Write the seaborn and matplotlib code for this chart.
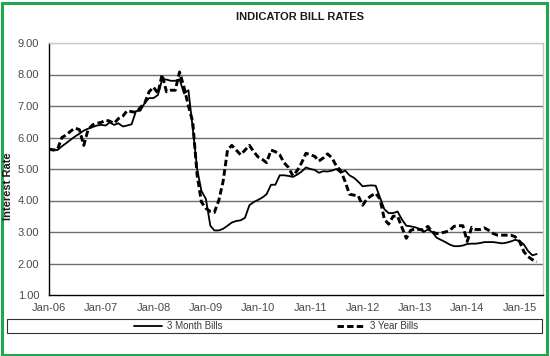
import matplotlib
matplotlib.use("Agg")
import matplotlib.pyplot as plt
import matplotlib.dates as mdates
from matplotlib.patches import Rectangle
import numpy as np
import pandas as pd
import seaborn as sns

# monthly readings, Jan 2006 .. May 2015
months = pd.date_range("2006-01-01", periods=113, freq="MS")

three_month = [
    5.63, 5.62, 5.60, 5.72, 5.82, 5.93, 6.03, 6.12, 6.22, 6.28, 6.33, 6.38,
    6.40, 6.38, 6.48, 6.40, 6.45, 6.35, 6.38, 6.42, 6.84, 6.85, 7.10, 7.25,
    7.25, 7.35, 7.84, 7.84, 7.80, 7.80, 7.85, 7.40, 7.50, 6.30, 5.00, 4.30,
    4.05, 3.20, 3.05, 3.05, 3.10, 3.20, 3.30, 3.35, 3.37, 3.45, 3.85, 3.95,
    4.02, 4.10, 4.20, 4.50, 4.50, 4.80, 4.80, 4.78, 4.75, 4.82, 4.92, 5.05,
    5.00, 4.97, 4.88, 4.93, 4.92, 4.95, 5.00, 4.88, 4.95, 4.80, 4.72, 4.60,
    4.45, 4.47, 4.48, 4.47, 4.10, 3.72, 3.60, 3.60, 3.65, 3.40, 3.20, 3.18,
    3.15, 3.10, 3.00, 3.08, 3.00, 2.82, 2.75, 2.68, 2.60, 2.55, 2.55, 2.57,
    2.62, 2.63, 2.63, 2.65, 2.68, 2.68, 2.68, 2.66, 2.64, 2.66, 2.70, 2.75,
    2.72, 2.60, 2.40, 2.26, 2.30,
]

three_year = [
    5.63, 5.60, 5.62, 6.00, 6.08, 6.20, 6.30, 6.25, 5.75, 6.25, 6.40, 6.45,
    6.48, 6.55, 6.52, 6.45, 6.60, 6.68, 6.85, 6.82, 6.80, 6.95, 7.10, 7.45,
    7.60, 7.40, 8.00, 7.45, 7.50, 7.50, 8.08, 7.60, 7.00, 6.50, 4.80, 3.95,
    3.75, 3.65, 3.62, 4.00, 4.60, 5.60, 5.75, 5.60, 5.45, 5.60, 5.75, 5.55,
    5.38, 5.30, 5.20, 5.60, 5.55, 5.45, 5.20, 5.05, 4.78, 4.95, 5.20, 5.50,
    5.45, 5.40, 5.25, 5.35, 5.48, 5.35, 5.10, 4.95, 4.60, 4.20, 4.17, 4.15,
    3.85, 4.05, 4.15, 4.23, 4.05, 3.40, 3.25, 3.50, 3.50, 3.15, 2.80, 3.05,
    3.10, 3.08, 3.07, 3.18, 3.00, 2.95, 2.97, 3.00, 3.05, 3.18, 3.20, 3.20,
    2.70, 3.15, 3.08, 3.08, 3.13, 3.05, 2.95, 2.90, 2.90, 2.90, 2.90, 2.85,
    2.70, 2.37, 2.22, 2.12, 2.05,
]

series_names = ["3 Month Bills", "3 Year Bills"]
y_ticks = [1, 2, 3, 4, 5, 6, 7, 8, 9]

df = pd.DataFrame({
    "date": list(months) * 2,
    "rate": three_month + three_year,
    "series": [series_names[0]] * len(months) + [series_names[1]] * len(months),
})

sns.set_style("white")
plt.rcParams["font.family"] = ["Liberation Sans", "DejaVu Sans"]

fig = plt.figure(figsize=(5.5, 3.56), dpi=100)
ax = fig.add_axes([49 / 550, 1 - 295 / 356, 494 / 550, 252 / 356])

sns.lineplot(
    data=df, x="date", y="rate", style="series", ax=ax,
    color="black", dashes={series_names[0]: "", series_names[1]: (2.2, 1.1)},
    legend=False,
)
ax.lines[0].set_linewidth(1.3)
ax.lines[1].set_linewidth(2.1)
ax.lines[1].set_dash_capstyle("butt")

# horizontal grid like excel
for v in y_ticks[1:-1]:
    ax.axhline(v, color="#6f6f6f", lw=1.0, zorder=0)
ax.axhline(9, color="#c8c8c8", lw=1.0, zorder=0)

ax.set_ylim(1, 9)
ax.set_yticks(y_ticks)
ax.set_yticklabels([f"{v:.2f}" for v in y_ticks])
ax.set_xlim(pd.Timestamp("2006-01-01"), pd.Timestamp("2015-06-14"))
ax.xaxis.set_major_locator(mdates.YearLocator())
ax.xaxis.set_major_formatter(mdates.DateFormatter("%b-%y"))

for side in ["top", "right"]:
    ax.spines[side].set_color("#c8c8c8")
    ax.spines[side].set_linewidth(1.0)
for side in ["left", "bottom"]:
    ax.spines[side].set_color("black")
    ax.spines[side].set_linewidth(1.0)

ax.tick_params(axis="both", direction="out", length=3, width=1, color="black",
               labelsize=8, labelcolor="#4a4a4a")
ax.tick_params(axis="y", pad=4)
ax.tick_params(axis="x", pad=3)
ax.set_xlabel("")
ax.set_ylabel("")

fig.text(300 / 550, 1 - 17 / 356, "INDICATOR BILL RATES", ha="center", va="center",
         fontsize=8, fontweight="bold", color="#1a1a1a")
fig.text(8 / 550, 1 - 186 / 356, "Interest Rate", ha="center", va="center",
         rotation=90, fontsize=8, fontweight="bold", color="#1a1a1a")

# legend frame below the chart
fig.patches.append(Rectangle((7 / 550, 1 - 333 / 356), 535 / 550, 14 / 356,
                             transform=fig.transFigure, fill=False,
                             edgecolor="#333333", lw=0.8))
leg = fig.legend(
    handles=ax.lines[:2], labels=series_names, loc="center",
    bbox_to_anchor=(276 / 550, 1 - 326 / 356), ncol=2, frameon=False,
    fontsize=7, handlelength=2.9, handletextpad=0.45, columnspacing=11.8,
    borderpad=0, labelcolor="#3a3a3a",
)

# green outer border
fig.patches.append(Rectangle((1.5 / 550, 1.5 / 356), 545 / 550, 352 / 356,
                             transform=fig.transFigure, fill=False,
                             edgecolor="#22a650", lw=2.2))

fig.savefig("out.png", dpi=100)
